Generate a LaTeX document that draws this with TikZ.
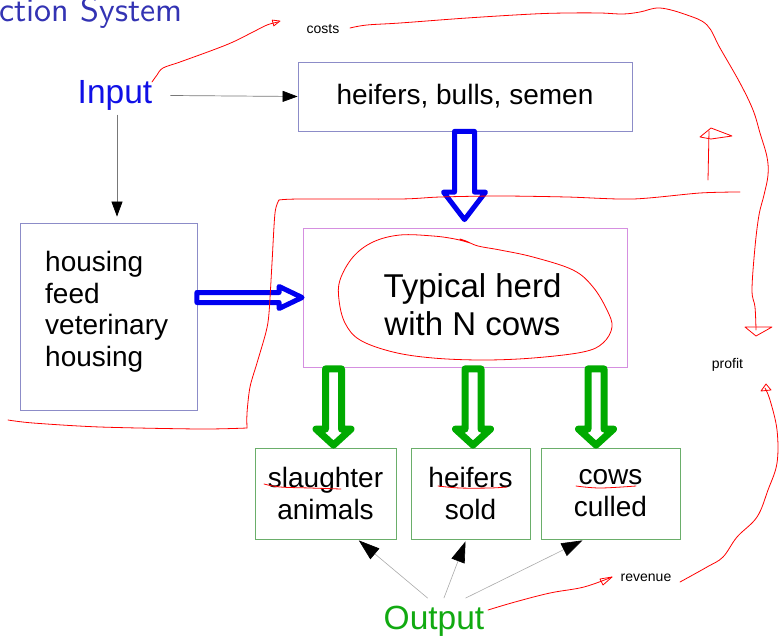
\documentclass[tikz,border=0pt]{standalone}
\usepackage{fontspec}
\setmainfont{Liberation Sans}
\newfontfamily\titlefont{lmsans10-regular.otf}
\usetikzlibrary{arrows.meta,calc}
\definecolor{titleblue}{RGB}{51,51,179}
\definecolor{inblue}{RGB}{16,16,230}
\definecolor{outgreen}{RGB}{17,170,17}
\definecolor{arrgreen}{RGB}{0,170,0}
\definecolor{arrblue}{RGB}{0,0,240}
\definecolor{boxblue}{RGB}{140,140,200}
\definecolor{boxviolet}{RGB}{213,143,224}
\definecolor{boxgreen}{RGB}{106,174,106}
\definecolor{linegray}{RGB}{170,170,170}
\definecolor{darkline}{RGB}{120,120,120}
\newcommand\hollowdown[6]{%
  \draw[#1] ($(#2)+(-#4,0)$) -- ($(#2|-#3)+(-#4,-#6)$) -- ($(#2|-#3)+(-#5,-#6)$) -- (#2|-#3)
    -- ($(#2|-#3)+(#5,-#6)$) -- ($(#2|-#3)+(#4,-#6)$) -- ($(#2)+(#4,0)$) -- cycle;}
\newcommand\hollowright[6]{%
  \draw[#1] ($(#2)+(0,-#4)$) -- ($(#3|-#2)+(-#6,-#4)$) -- ($(#3|-#2)+(-#6,-#5)$) -- (#3|-#2)
    -- ($(#3|-#2)+(-#6,#5)$) -- ($(#3|-#2)+(-#6,#4)$) -- ($(#2)+(0,#4)$) -- cycle;}
\tikzset{
  bigtxt/.style={font=\fontsize{28}{32}\selectfont},
  smalltxt/.style={font=\fontsize{14}{16}\selectfont, inner sep=0pt},
  bluebox/.style={draw=boxblue, line width=0.8pt, inner sep=0pt},
  greenbox/.style={draw=boxgreen, line width=0.8pt, inner sep=0pt, minimum height=91pt, align=center, bigtxt},
  thinarrow/.style={draw=darkline, line width=0.7pt, -{Triangle[length=15pt,width=11pt,black]}},
  outarrow/.style={draw=linegray, line width=0.6pt, -{Triangle[length=21pt,width=14pt,black]}},
  hollowblue/.style={draw=arrblue, fill=white, line width=5pt, line join=round},
  hollowgreen/.style={draw=arrgreen, fill=white, line width=7pt, line join=round},
  pen/.style={draw=red, line width=0.8pt, line join=round, line cap=round},
}
\begin{document}
\begin{tikzpicture}[x=1pt,y=-1pt]
\useasboundingbox (0,0) rectangle (779,637);
% title (cut at left and top, as in the reference)
\node[anchor=base east, inner sep=0pt, text=titleblue, font=\titlefont\fontsize{34}{40}\selectfont] (title) at (183,21.7) {ction System};
% labels
\node[smalltxt] (costs) at (323,29) {costs};
\node[smalltxt] (profit) at (727.5,365) {profit};
\node[smalltxt] (revenue) at (646,578) {revenue};
% Input / Output
\node[text=inblue, font=\fontsize{33.5}{38}\selectfont, inner xsep=18pt, inner ysep=4pt] (in) at (115,95.5) {Input};
\node[text=outgreen, font=\fontsize{33.5}{38}\selectfont, inner xsep=0pt, inner ysep=8pt] (out) at (434,621.5) {Output};
% boxes
\node[bluebox, bigtxt, minimum width=334pt, minimum height=69pt] (hbs) at (465,96.5) {heifers, bulls, semen};
\node[bluebox, minimum width=177pt, minimum height=187pt] (hs) at (108.5,316.5) {};
\node[anchor=north west, inner sep=0pt, align=left, font=\fontsize{28}{31.6}\selectfont] (hstxt) at (45,251) {housing\\feed\\veterinary\\housing};
\node[draw=boxviolet, line width=0.8pt, inner sep=0pt, minimum width=324pt, minimum height=139pt] (herd) at (465,297.5) {};
\node[anchor=north, inner sep=0pt, align=center, font=\fontsize{33}{38}\selectfont] (herdtxt) at (472.5,273.5) {Typical herd\\with N cows};
\node[greenbox, minimum width=141pt] (sa) at (325.5,493.5) {slaughter\\animals};
\node[greenbox, minimum width=119pt] (hsold) at (470.5,493.5) {heifers\\sold};
\node[greenbox, minimum width=139pt] (cc) at (610.5,493.5) {cows\\culled};
% thin arrows
\draw[thinarrow] (in.east) -- (hbs.west);
\draw[thinarrow] ($(in.south)+(2,0)$) -- ($(hs.north)+(8.5,-6)$);
\draw[outarrow] ($(out.north)+(-6.3,0)$) -- ($(sa.south)+(33.3,1)$);
\draw[outarrow] ($(out.north)+(9.9,0)$) -- ($(hsold.south)+(-5,2)$);
\draw[outarrow] ($(out.north)+(31.5,0)$) -- ($(cc.south)+(-28,1)$);
% hollow arrows
\coordinate (b1s) at ($(hbs.south)+(-0.5,0)$);
\coordinate (b1e) at ($(herd.north)+(0,-8)$);
\hollowdown{hollowblue}{b1s}{b1e}{10}{21}{27.5}
\coordinate (b2s) at ($(hs.east)+(-0.5,-19)$);
\coordinate (b2e) at ($(herd.west)+(-0.5,0)$);
\hollowright{hollowblue}{b2s}{b2e}{5}{11}{23}
\coordinate (g1s) at ($(herd.south)+(-131.5,1.5)$);
\coordinate (g1e) at ($(sa.north)+(0,-2.5)$);
\hollowdown{hollowgreen}{g1s}{g1e}{8}{17.5}{16}
\coordinate (g2s) at ($(herd.south)+(8,1.5)$);
\coordinate (g2e) at ($(hsold.north)+(0,-2.5)$);
\hollowdown{hollowgreen}{g2s}{g2e}{8}{17.5}{16}
\coordinate (g3s) at ($(herd.south)+(131,1.5)$);
\coordinate (g3e) at ($(cc.north)+(0,-2.5)$);
\hollowdown{hollowgreen}{g3s}{g3e}{8}{17.5}{16}
% red freehand annotations
\draw[pen] plot[smooth, tension=0.6] coordinates {(152,82) (157,75) (163,68) (180,62) (213,50) (233,42) (253,32) (267,25) (278,22)};
\draw[pen] (280,21) -- (273.8,25.9) -- (272.2,20.1) -- cycle;
\draw[pen] plot[smooth, tension=0.6] coordinates {(350,28) (367,25) (400,23) (467,18) (533,14) (567,13) (600,13) (623,14) (640,12) (660,8) (687,15) (707,25) (720,48) (740,83) (753,110) (760,133) (767,157) (768,175) (764,195) (759,215) (755,247) (752,290) (755,307) (756,330)};
\draw[pen] (745,327) -- (772,327) -- (756,336) -- cycle;
\draw[pen] plot[smooth, tension=0.5] coordinates {(740,192) (700,193) (633,199) (567,197) (500,196) (440,197) (400,199) (300,199) (279,200)};
\draw[pen] plot[smooth, tension=0.5] coordinates {(279,200) (275,213) (272,263) (269,313) (266,332) (257,363) (250,387) (247,413) (247,428)};
\draw[pen] plot[smooth, tension=0.5] coordinates {(247,428) (200,429) (100,427) (33,423) (8,420)};
\draw[pen] (708,180) -- (709,131);
\draw[pen] (700,137) -- (711,128) -- (732,136) -- (711,139) -- cycle;
\draw[pen] plot[smooth, tension=0.6] coordinates {(680,582) (707,567) (723,557) (737,537) (757,517) (768,490) (777,463) (777,430) (770,400) (765,388)};
\draw[pen] (766,384) -- (761,391) -- (771,390) -- cycle;
\draw[pen] plot[smooth, tension=0.6] coordinates {(488,610) (515,602) (550,593) (584,587) (612,577)};
\draw[pen] (612,577) -- (600,579) -- (603,585) -- cycle;
\draw[pen] plot[smooth, tension=0.6] coordinates {(470,243) (455,239) (433,236) (400,235) (373,242) (353,257) (340,280) (339,300) (345,323) (360,340) (393,352) (433,358) (483,360) (533,358) (583,352) (603,343) (612,327) (607,310) (593,287) (573,270) (533,257) (500,250) (478,246) (466,241) (460,239)};
\draw[pen] plot[smooth, tension=0.6] coordinates {(264,484) (280,487) (310,488) (341,489)};
\draw[pen] plot[smooth, tension=0.6] coordinates {(438,486) (460,488) (490,488) (507,487)};
\draw[pen] plot[smooth, tension=0.6] coordinates {(576,486) (600,488) (636,486)};
\end{tikzpicture}
\end{document}
